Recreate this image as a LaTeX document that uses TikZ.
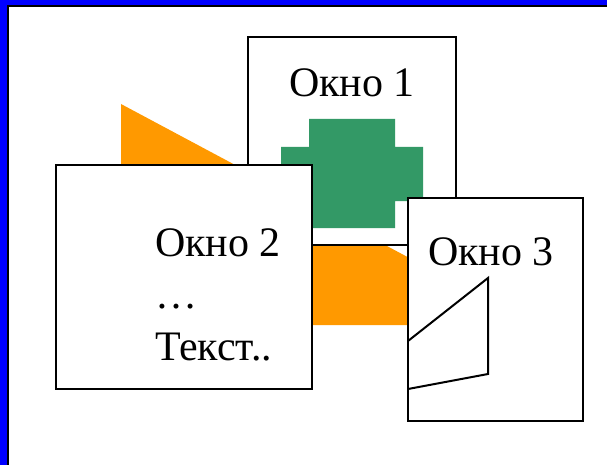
\documentclass[tikz,border=0pt]{standalone}
\usepackage{fontspec}
\setmainfont{Liberation Serif}
\usetikzlibrary{positioning}
\definecolor{winorange}{RGB}{255,153,0}
\definecolor{wingreen}{RGB}{51,153,102}

\begin{document}
\begin{tikzpicture}[x=1pt, y=-1pt,
            window/.style={rectangle, draw=black, line width=2pt, fill=white, inner sep=0pt},
            wintext/.style={inner sep=0pt, font=\fontsize{42}{52}\selectfont, align=left}
        ]
            \useasboundingbox (0,0) rectangle (607,465);

% Frame
            \fill[blue] (0,0) -- (607,0) -- (607,5) -- (7,5) -- (7,465) -- (0,465) -- cycle;
            \draw[line width=2pt] (8,465) -- (8,6) -- (607,6);

% Orange shape behind the windows
            \fill[winorange] (121,104) -- (430,269) -- (430,325) -- (121,325) -- cycle;

% Window 1
            \node[window, minimum width=208pt, minimum height=208pt] (win1) at (352,141) {};
            \node[wintext, anchor=base] (title1) at (352,97) {Окно 1};
            \fill[wingreen] (309,119) -- (395,119) -- (395,147) -- (423,147) -- (423,201)
                -- (395,201) -- (395,228) -- (309,228) -- (309,201) -- (281,201)
                -- (281,147) -- (309,147) -- cycle;

% Window 2
            \node[window, minimum width=256pt, minimum height=224pt] (win2) at (184,277) {};
            \node[wintext, anchor=north west] (text2) at (155,228.5) {Окно 2\\…\\Текст..};

% Window 3
            \node[window, minimum width=175pt, minimum height=223pt] (win3) at (495.5,309.5) {};
            \node[wintext, anchor=base west] (title3) at (428,265) {Окно 3};
            \draw[line width=2pt] (408,341) -- (488,278) -- (488,374) -- (408,389);

        \end{tikzpicture}
\end{document}
